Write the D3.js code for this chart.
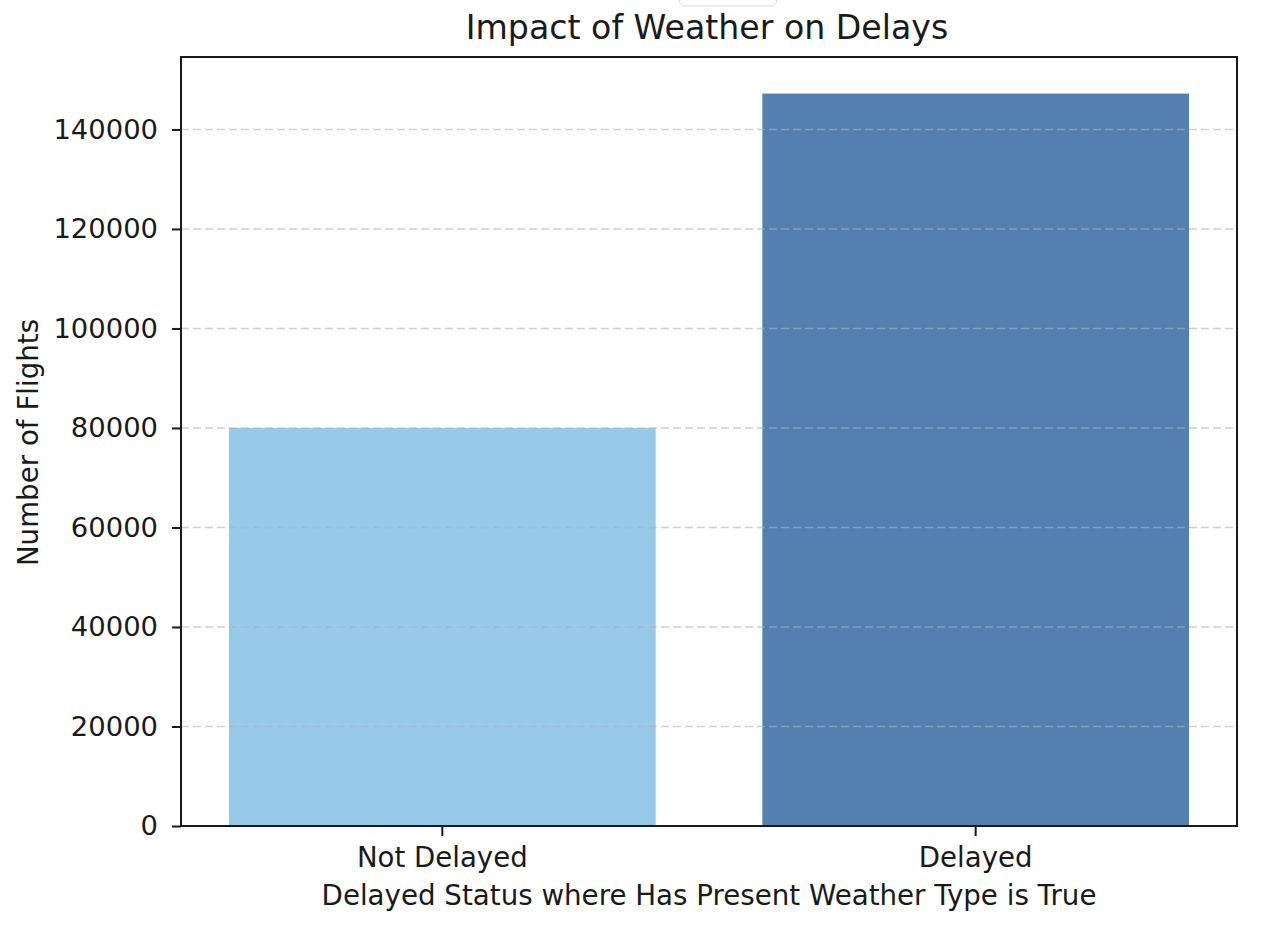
<!DOCTYPE html>
<html>
<head>
<meta charset="utf-8">
<script src="https://cdn.jsdelivr.net/npm/d3@7"></script>
<style>
  html, body { margin: 0; padding: 0; background: #ffffff; }
  svg { display: block; }
  text { font-family: "DejaVu Sans", sans-serif; fill: #1a1a1a; }
</style>
</head>
<body>
<svg id="chart" width="1262" height="928"></svg>
<script>
const categories = ["Not Delayed", "Delayed"];
const values = [80000, 147200];
const barColors = ["#96cae8", "#5480b1"];
const yTicks = [0, 20000, 40000, 60000, 80000, 100000, 120000, 140000];
const titleText = "Impact of Weather on Delays";
const xLabelText = "Delayed Status where Has Present Weather Type is True";
const yLabelText = "Number of Flights";

const W = 1262, H = 928;
const plot = { left: 181, right: 1237, top: 57, bottom: 826 };
const svg = d3.select("#chart");

// UI artifact at top of screenshot
svg.append("rect")
  .attr("x", 679).attr("y", -12).attr("width", 98).attr("height", 18)
  .attr("rx", 6).attr("fill", "#ffffff")
  .attr("stroke", "#d9dde3").attr("stroke-width", 1);

const x = d3.scaleBand().domain(categories)
  .range([plot.left, plot.right])
  .paddingInner(0.2).paddingOuter(0.09);
const y = d3.scaleLinear().domain([0, d3.max(values) * 1.05])
  .range([plot.bottom, plot.top]);

// bars
svg.append("g").selectAll("rect").data(categories).join("rect")
  .attr("x", d => x(d))
  .attr("y", (d, i) => y(values[i]))
  .attr("width", x.bandwidth())
  .attr("height", (d, i) => y(0) - y(values[i]))
  .attr("fill", (d, i) => barColors[i]);

// grid (drawn over bars)
svg.append("g").selectAll("line").data(yTicks).join("line")
  .attr("x1", plot.left).attr("x2", plot.right)
  .attr("y1", d => y(d)).attr("y2", d => y(d))
  .attr("stroke", "#b0b0b0").attr("stroke-opacity", 0.6)
  .attr("stroke-width", 1.5).attr("stroke-dasharray", "8,4");

// y axis
const yAxis = d3.axisLeft(y).tickValues(yTicks).tickFormat(d3.format("d"))
  .tickSize(9).tickPadding(14);
const gy = svg.append("g").attr("transform", `translate(${plot.left},0)`).call(yAxis);
gy.select(".domain").remove();
gy.selectAll(".tick line").attr("stroke", "#1a1a1a").attr("stroke-width", 2);
gy.selectAll(".tick text").attr("font-size", 27.4).attr("fill", "#1a1a1a")
  .attr("font-family", "DejaVu Sans, sans-serif");

// x axis
const xAxis = d3.axisBottom(x).tickSize(10).tickPadding(11);
const gx = svg.append("g").attr("transform", `translate(0,${plot.bottom})`).call(xAxis);
gx.select(".domain").remove();
gx.selectAll(".tick line").attr("stroke", "#1a1a1a").attr("stroke-width", 2);
gx.selectAll(".tick text").attr("font-size", 27.6).attr("fill", "#1a1a1a")
  .attr("font-family", "DejaVu Sans, sans-serif");

// frame
svg.append("rect")
  .attr("x", plot.left).attr("y", plot.top)
  .attr("width", plot.right - plot.left).attr("height", plot.bottom - plot.top)
  .attr("fill", "none").attr("stroke", "#1a1a1a").attr("stroke-width", 2);

// title
svg.append("text")
  .attr("x", (plot.left + plot.right) / 2 - 2).attr("y", 39)
  .attr("text-anchor", "middle").attr("font-size", 33.2)
  .text(titleText);

// x label
svg.append("text")
  .attr("x", (plot.left + plot.right) / 2).attr("y", 905)
  .attr("text-anchor", "middle").attr("font-size", 27.7)
  .text(xLabelText);

// y label
svg.append("text")
  .attr("transform", `translate(38,${(plot.top + plot.bottom) / 2 + 1}) rotate(-90)`)
  .attr("text-anchor", "middle").attr("font-size", 27.7)
  .text(yLabelText);
</script>
</body>
</html>
